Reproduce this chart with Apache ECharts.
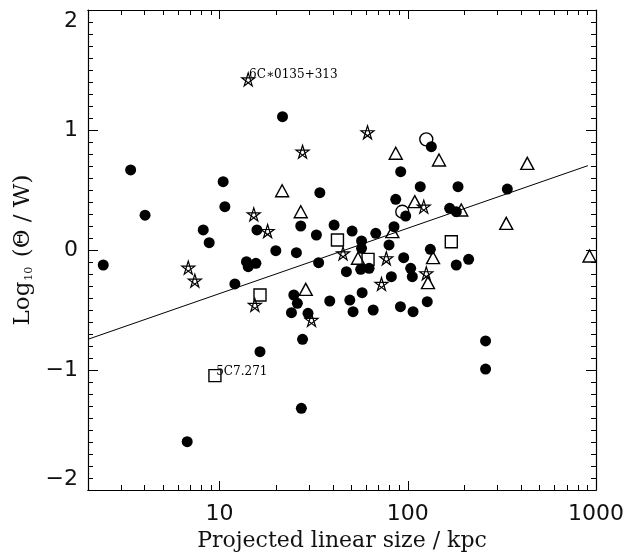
<!DOCTYPE html>
<html>
<head>
<meta charset="utf-8">
<script src="https://cdn.jsdelivr.net/npm/echarts@6/dist/echarts.min.js"></script>
<style>html,body{margin:0;padding:0;background:#fff}#c{width:635px;height:557px}</style>
</head>
<body>
<div id="c"></div>
<script>
// ---- data (projected linear size in kpc, log10(Theta/W)) ----
const filledX = [2.41,3.37,4.02,10.45,10.67,8.19,8.81,21.6,13.9,14.2,15.6,15.8,19.9,25.6,27.0,32.7,34.1,33.6,
  133.4,91.7,116.5,184.9,338,86.3,97.5,166.9,181,40.6,50.6,67.6,84.5,56.8,56.8,79.5,131.8,47.2,56.2,62.3,95.1,
  103.6,181,210.5,81.8,105.7,38.5,49.2,57.2,51.2,65.5,91.4,106.7,126.9,29.5,27.6,27.2,259,259,12.06,16.4,6.73,
  24.8,25.9,24.1];
const filledY = [-0.125,0.667,0.29,0.569,0.361,0.167,0.061,1.111,-0.097,-0.139,-0.111,0.167,-0.006,-0.022,0.2,0.125,0.478,-0.106,
  0.861,0.653,0.528,0.528,0.508,0.422,0.283,0.347,0.319,0.208,0.158,0.139,0.194,0.075,0.014,0.042,0.006,-0.181,-0.161,-0.153,-0.064,
  -0.153,-0.125,-0.078,-0.222,-0.222,-0.425,-0.417,-0.356,-0.514,-0.5,-0.472,-0.514,-0.431,-0.528,-0.744,-1.319,-0.758,-0.992,-0.283,-0.847,-1.597,
  -0.375,-0.444,-0.522];
const openCircX = [125.4, 93.5];
const openCircY = [0.922, 0.319];
const triX = [21.5,27.0,86.3,146.5,431.5,108.9,192.4,333.6,924,82.8,54.4,136.2,128,28.7];
const triY = [0.494,0.319,0.806,0.75,0.722,0.403,0.333,0.222,-0.05,0.153,-0.069,-0.064,-0.272,-0.328];
const sqX = [42.3,61.5,170.3,16.4,9.45];
const sqY = [0.083,-0.078,0.069,-0.375,-1.047];
const sqNames = ['','','','','5C7.271'];
const starX = [14.2,27.6,15.2,18.0,6.82,7.39,61.1,121.6,45.3,76.9,125.4,72.5,30.8,15.4];
const starY = [1.422,0.819,0.297,0.158,-0.147,-0.256,0.981,0.361,-0.028,-0.069,-0.194,-0.283,-0.583,-0.458];
const starNames = ['6C\u22170135+313','','','','','','','','','','','','',''];
const fitX = [2, 906];
const fitY = [-0.744, 0.703];
const xMajor = [10, 100, 1000];
const xMinor = [3,4,5,6,7,8,9,20,30,40,50,60,70,80,90,200,300,400,500,600,700,800,900];

const pts = (xs, ys) => xs.map((x, i) => [x, ys[i]]);
const labelled = (xs, ys, names) => xs.map((x, i) => {
  const d = { value: [x, ys[i]] };
  if (names[i]) d.label = { show: true, formatter: names[i] };
  return d;
});

const BLACK = '#000';
const tickFont = 'DejaVu Sans';
const titleFont = 'DejaVu Serif';

function xAx(position, ticks, len, withLabel) {
  return {
    type: 'log', logBase: 10, min: 2, max: 1000, position: position,
    axisLine: { show: true, onZero: false, lineStyle: { color: BLACK, width: 1.2 } },
    axisTick: { show: true, inside: true, length: len, customValues: ticks, lineStyle: { color: BLACK, width: 1 } },
    minorTick: { show: false },
    axisLabel: withLabel ? {
      show: true, customValues: xMajor, margin: 13, color: '#111', fontFamily: tickFont, fontSize: 22,
      formatter: v => String(Math.round(v))
    } : { show: false },
    splitLine: { show: false },
    name: withLabel ? 'Projected linear size / kpc' : '',
    nameLocation: 'middle', nameGap: 38,
    nameTextStyle: { fontFamily: titleFont, fontSize: 22, color: '#111' }
  };
}
function yAx(position, withLabel) {
  return {
    type: 'value', min: -2, max: 2, interval: 1, position: position,
    axisLine: { show: true, onZero: false, lineStyle: { color: BLACK, width: 1.2 } },
    axisTick: { show: true, inside: true, length: 10, lineStyle: { color: BLACK, width: 1 } },
    minorTick: { show: true, splitNumber: 10, length: 5, lineStyle: { color: BLACK, width: 1 } },
    axisLabel: withLabel ? {
      show: true, margin: 10, color: '#111', fontFamily: tickFont, fontSize: 22,
      verticalAlignMaxLabel: 'top', verticalAlignMinLabel: 'bottom',
      formatter: v => (v < 0 ? '\u2212' + (-v) : String(v))
    } : { show: false },
    splitLine: { show: false },
    name: withLabel ? '{a|Log}{s|10}{a| (\u0398 / W)}' : '',
    nameLocation: 'middle', nameRotate: 90, nameGap: 50,
    nameTextStyle: {
      color: '#111',
      rich: {
        a: { fontFamily: titleFont, fontSize: 23, color: '#111' },
        s: { fontFamily: titleFont, fontSize: 11, color: '#111', verticalAlign: 'bottom', padding: [0, 2, 0, 1] }
      }
    }
  };
}

const starPath = 'path://M0,-10 L5.878,8.09 L-9.511,-3.09 L9.511,-3.09 L-5.878,8.09 Z';
const openStyle = { color: 'rgba(0,0,0,0)', borderColor: BLACK, borderWidth: 1.4, opacity: 1 };
const annLabel = { show: false, position: [8, 3], align: 'left', verticalAlign: 'middle',
  fontFamily: titleFont, fontSize: 12, color: BLACK };

const chart = echarts.init(document.getElementById('c'), null, { renderer: 'canvas' });
chart.setOption({
  animation: false,
  backgroundColor: '#fff',
  grid: { left: 88, right: 39, top: 10, bottom: 67, containLabel: false },
  xAxis: [
    xAx('bottom', xMajor, 9, true),
    xAx('bottom', xMinor, 5, false),
    xAx('top', xMajor, 9, false),
    xAx('top', xMinor, 5, false)
  ],
  yAxis: [yAx('left', true), yAx('right', false)],
  series: [
    { type: 'line', data: pts(fitX, fitY), symbol: 'none', silent: true,
      lineStyle: { color: BLACK, width: 1 }, z: 1 },
    { type: 'scatter', data: pts(openCircX, openCircY), symbol: 'circle', symbolSize: 13,
      itemStyle: openStyle, z: 2 },
    { type: 'scatter', data: pts(filledX, filledY), symbol: 'circle', symbolSize: 11,
      itemStyle: { color: BLACK, opacity: 1 }, z: 3 },
    { type: 'scatter', data: pts(triX, triY), symbol: 'triangle', symbolSize: [13, 12],
      itemStyle: openStyle, z: 4 },
    { type: 'scatter', data: labelled(sqX, sqY, sqNames), symbol: 'rect', symbolSize: 12,
      itemStyle: openStyle, label: annLabel, z: 4 },
    { type: 'scatter', data: labelled(starX, starY, starNames), symbol: starPath, symbolSize: 13,
      itemStyle: { color: 'rgba(0,0,0,0)', borderColor: BLACK, borderWidth: 1.2, opacity: 1 }, label: annLabel, z: 5 }
  ]
});
</script>
</body>
</html>
